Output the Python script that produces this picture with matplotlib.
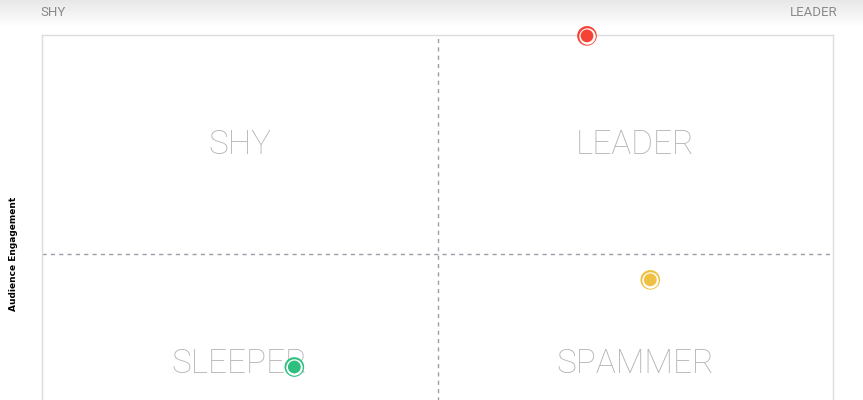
import numpy as np
import matplotlib.pyplot as plt

# quadrant data (0-100 scale on both axes)
names = ['red', 'yellow', 'green']
reach = [68.9, 76.9, 31.9]
engagement = [99.8, 44.1, 24.2]
colors = ['#f44336', '#efc143', '#2fbf7f']

quadrants = ['SHY', 'LEADER', 'SLEEPER', 'SPAMMER']
quad_x = [25, 75, 25, 75]
quad_y = [75, 75, 25, 25]

W, H = 863, 400
fig = plt.figure(figsize=(W / 100, H / 100), dpi=100)

# grey fade at the top
bg = fig.add_axes([0, 0, 1, 1], zorder=-5)
bg.set_axis_off()
grad = np.ones((H, 1))
top = np.linspace(0.905, 1.0, 28)
grad[:28, 0] = top
bg.imshow(grad, cmap='gray', vmin=0, vmax=1, aspect='auto', extent=[0, 1, 0, 1])

fig.text(40 / W, 1 - 12 / H, 'SHY', ha='left', va='center', color='#8a8a8a',
         fontsize=9.5, family='Roboto')
fig.text(837 / W, 1 - 12 / H, 'LEADER', ha='right', va='center', color='#8a8a8a',
         fontsize=9.5, family='Roboto')

ax = fig.add_axes([42 / W, 1 - 473 / H, 791 / W, 438 / H])
ax.set_xlim(0, 100)
ax.set_ylim(0, 100)
ax.set_xticks([])
ax.set_yticks([])
for s in ax.spines.values():
    s.set_color('#dcdcdc')
    s.set_linewidth(1)
ax.patch.set_facecolor('white')

ax.axvline(50, color='#9a9ea6', lw=1, ls=(0, (3, 3)))
ax.axhline(50, color='#9a9ea6', lw=1, ls=(0, (3, 3)))

for q, qx, qy in zip(quadrants, quad_x, quad_y):
    ax.text(qx, qy, q, ha='center', va='center', fontsize=24, color='#b4b4b4',
            family='Roboto', fontweight='light')

ax.scatter(reach, engagement, s=200, c=colors, zorder=5, clip_on=False, linewidths=0)
ax.scatter(reach, engagement, s=140, c='white', zorder=6, clip_on=False, linewidths=0)
ax.scatter(reach, engagement, s=85, c=colors, zorder=7, clip_on=False, linewidths=0)

fig.text(13 / W, 1 - 254 / H, 'Audience Engagement', rotation=90, ha='center',
         va='center', fontsize=6.5, fontweight='bold', color='black',
         family='Liberation Sans Narrow')

fig.savefig('out.png', dpi=100)
